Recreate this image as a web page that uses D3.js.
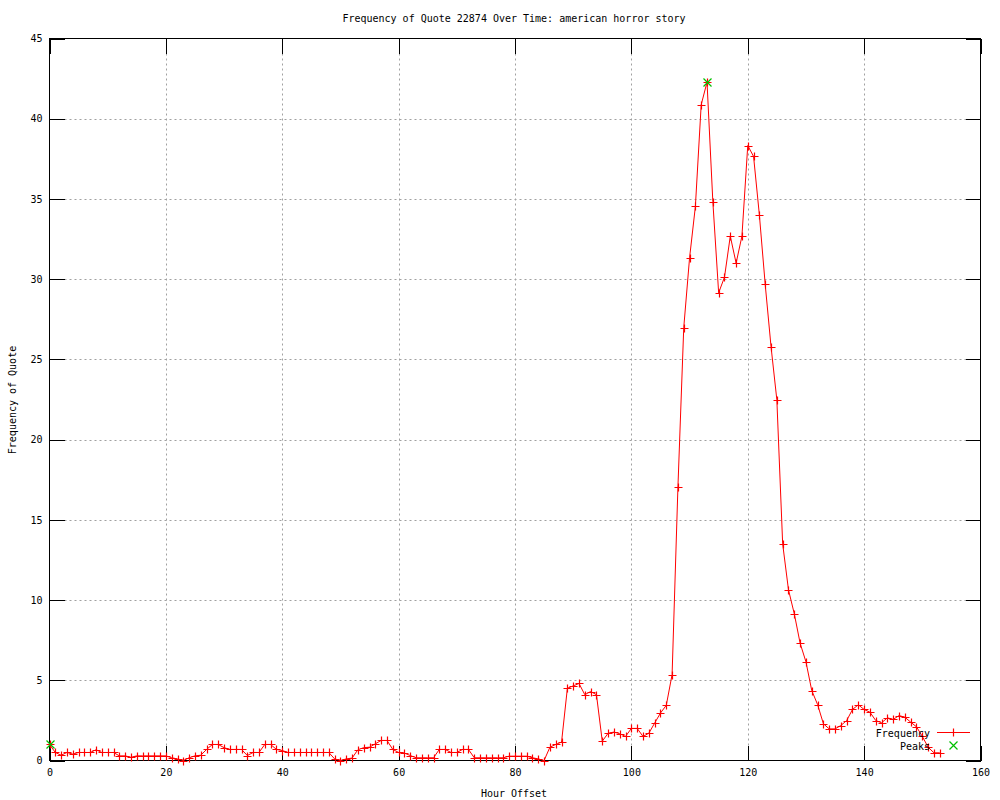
<!DOCTYPE html>
<html>
<head>
<meta charset="utf-8">
<script src="https://cdn.jsdelivr.net/npm/d3@7"></script>
<style>
  body { margin: 0; background: #fff; }
  text { font-family: "DejaVu Sans Mono", "Liberation Mono", monospace; font-size: 10px; fill: #000; }
</style>
</head>
<body>
<svg id="chart"></svg>
<script>
var width = 1000;
var height = 800;

// hourly frequency, first value is hour 0
var frequency = [
    1.0, 0.5, 0.33, 0.5, 0.4, 0.5, 0.5, 0.5, 0.67, 0.5,
    0.5, 0.5, 0.29, 0.29, 0.2, 0.29, 0.29, 0.29, 0.29, 0.29,
    0.29, 0.17, 0.1, 0, 0.17, 0.29, 0.33, 0.69, 1.0, 1.0,
    0.8, 0.69, 0.69, 0.69, 0.31, 0.5, 0.5, 1.0, 1.0, 0.69,
    0.62, 0.5, 0.5, 0.5, 0.5, 0.5, 0.5, 0.5, 0.5, 0.1,
    0, 0.1, 0.15, 0.67, 0.8, 0.83, 1.04, 1.25, 1.25, 0.69,
    0.5, 0.46, 0.31, 0.17, 0.17, 0.17, 0.17, 0.69, 0.69, 0.5,
    0.5, 0.69, 0.69, 0.17, 0.17, 0.17, 0.17, 0.17, 0.17, 0.27,
    0.27, 0.27, 0.27, 0.17, 0.1, 0, 0.83, 1.0, 1.15, 4.5,
    4.65, 4.8, 4.1, 4.3, 4.1, 1.2, 1.7, 1.77, 1.67, 1.5,
    2.0, 2.0, 1.5, 1.7, 2.33, 2.96, 3.44, 5.36, 17.04, 26.97,
    31.33, 34.53, 40.87, 42.28, 34.84, 29.15, 30.12, 32.68, 31.0, 32.68,
    38.33, 37.65, 34.0, 29.67, 25.8, 22.48, 13.5, 10.64, 9.14, 7.31,
    6.15, 4.36, 3.49, 2.29, 1.97, 1.97, 2.18, 2.49, 3.18, 3.47,
    3.18, 3.01, 2.49, 2.35, 2.66, 2.56, 2.8, 2.7, 2.39, 2.1,
    1.5, 0.83, 0.48, 0.48
];

var peakHours = [0, 113];
var peakValues = [1.0, 42.28];

var xTicks = [0, 20, 40, 60, 80, 100, 120, 140, 160];
var yTicks = [0, 5, 10, 15, 20, 25, 30, 35, 40, 45];

var titleText = "Frequency of Quote 22874 Over Time: american horror story";
var xLabel = "Hour Offset";
var yLabel = "Frequency of Quote";
var seriesNames = ["Frequency", "Peaks"];

var plotLeft = 49.5, plotRight = 980.5, plotTop = 38.5, plotBottom = 760.5;
var red = "#ff0000";
var green = "#00c000";

var svg = d3.select('#chart')
    .attr('width', width)
    .attr('height', height);

var x = d3.scaleLinear().domain([0, 160]).range([plotLeft, plotRight]);
var y = d3.scaleLinear().domain([0, 45]).range([plotBottom, plotTop]);

// grid
var grid = svg.append('g').attr('class', 'grid');
grid.selectAll('line.gx')
    .data(xTicks.slice(1, -1))
    .enter().append('line')
    .attr('x1', function(d){ return Math.round(x(d)) + 0.5; })
    .attr('x2', function(d){ return Math.round(x(d)) + 0.5; })
    .attr('y1', plotTop).attr('y2', plotBottom);
grid.selectAll('line.gy')
    .data(yTicks.slice(1, -1))
    .enter().append('line')
    .attr('y1', function(d){ return Math.round(y(d)) + 0.5; })
    .attr('y2', function(d){ return Math.round(y(d)) + 0.5; })
    .attr('x1', plotLeft).attr('x2', plotRight);
grid.selectAll('line')
    .style('stroke', '#a0a0a0')
    .style('stroke-width', 1)
    .style('stroke-dasharray', '2,3');

// axes with inward ticks
var tick = 15;
function styleAxis(g) {
    g.selectAll('.domain').remove();
    g.selectAll('line').style('stroke', '#000').style('shape-rendering', 'crispEdges');
    g.selectAll('text').style('font-family', '"DejaVu Sans Mono", monospace').style('font-size', '10px');
}

svg.append('g')
    .attr('transform', 'translate(0,' + plotBottom + ')')
    .call(d3.axisBottom(x).tickValues(xTicks).tickFormat(d3.format('d'))
        .tickSizeInner(-tick).tickSizeOuter(0).tickPadding(8))
    .call(styleAxis);
svg.append('g')
    .attr('transform', 'translate(0,' + plotTop + ')')
    .call(d3.axisTop(x).tickValues(xTicks).tickFormat('')
        .tickSizeInner(-tick).tickSizeOuter(0))
    .call(styleAxis);
svg.append('g')
    .attr('transform', 'translate(' + plotLeft + ',0)')
    .call(d3.axisLeft(y).tickValues(yTicks).tickFormat(d3.format('d'))
        .tickSizeInner(-tick).tickSizeOuter(0).tickPadding(7))
    .call(styleAxis);
svg.append('g')
    .attr('transform', 'translate(' + plotRight + ',0)')
    .call(d3.axisRight(y).tickValues(yTicks).tickFormat('')
        .tickSizeInner(-tick).tickSizeOuter(0))
    .call(styleAxis);

// border
svg.append('rect')
    .attr('x', plotLeft).attr('y', plotTop)
    .attr('width', plotRight - plotLeft).attr('height', plotBottom - plotTop)
    .style('fill', 'none').style('stroke', '#000').style('stroke-width', 1);

// frequency line
var line = d3.line()
    .x(function(d, i){ return x(i); })
    .y(function(d){ return y(d); });

svg.append('path')
    .datum(frequency)
    .attr('d', line)
    .style('fill', 'none')
    .style('stroke', red)
    .style('stroke-width', 1);

function plus(g, cx, cy, col) {
    g.append('path')
        .attr('d', 'M' + (cx - 4) + ',' + cy + 'H' + (cx + 4) + 'M' + cx + ',' + (cy - 4) + 'V' + (cy + 4))
        .style('stroke', col).style('stroke-width', 1.2).style('fill', 'none');
}
function cross(g, cx, cy, col) {
    g.append('path')
        .attr('d', 'M' + (cx - 4) + ',' + (cy - 4) + 'L' + (cx + 4) + ',' + (cy + 4) +
            'M' + (cx - 4) + ',' + (cy + 4) + 'L' + (cx + 4) + ',' + (cy - 4))
        .style('stroke', col).style('stroke-width', 1.2).style('fill', 'none');
}

var marks = svg.append('g');
for (var i = 0; i < frequency.length; i++) {
    plus(marks, Math.round(x(i)) + 0.5, Math.round(y(frequency[i])) + 0.5, red);
}
for (var j = 0; j < peakHours.length; j++) {
    cross(marks, Math.round(x(peakHours[j])) + 0.5, Math.round(y(peakValues[j])) + 0.5, green);
}

// legend
var lg = svg.append('g');
lg.append('text').attr('x', 930).attr('y', 737).attr('text-anchor', 'end').text(seriesNames[0]);
lg.append('line').attr('x1', 937).attr('x2', 970).attr('y1', 732.5).attr('y2', 732.5)
    .style('stroke', red).style('stroke-width', 1);
plus(lg, 953.5, 732.5, red);
lg.append('text').attr('x', 930).attr('y', 750).attr('text-anchor', 'end').text(seriesNames[1]);
cross(lg, 953.5, 745.5, green);

// titles
svg.append('text').attr('x', 514).attr('y', 22).attr('text-anchor', 'middle').text(titleText);
svg.append('text').attr('x', 514).attr('y', 797).attr('text-anchor', 'middle').text(xLabel);
svg.append('text')
    .attr('transform', 'translate(16,400) rotate(-90)')
    .attr('text-anchor', 'middle')
    .text(yLabel);
</script>
</body>
</html>
